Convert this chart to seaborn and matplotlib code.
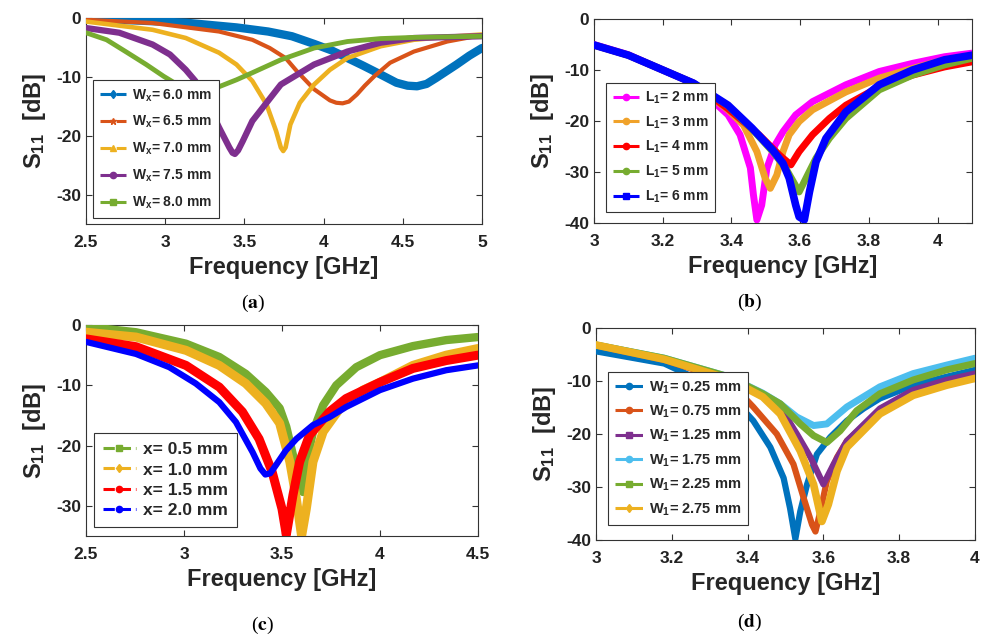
import numpy as np
import pandas as pd
import matplotlib
matplotlib.use("Agg")
import matplotlib.pyplot as plt
from matplotlib.lines import Line2D
import seaborn as sns

# ---- Data (freq in GHz, S11 in dB) ----
# (a) Wx sweep
a_labels = ["6.0", "6.5", "7.0", "7.5", "8.0"]
a_f_60 = [2.5, 2.8, 3.13, 3.45, 3.65, 3.8, 3.94, 4.05, 4.15, 4.25, 4.36, 4.46, 4.53, 4.59, 4.65, 4.71, 4.84, 4.92, 5.0]
a_s_60 = [-0.3, -0.4, -0.8, -1.6, -2.3, -3.1, -4.4, -5.5, -6.8, -8.1, -9.6, -11.0, -11.5, -11.6, -11.2, -10.2, -7.9, -6.4, -5.1]
a_f_65 = [2.5, 2.92, 3.34, 3.55, 3.66, 3.76, 3.83, 3.94, 4.04, 4.08, 4.12, 4.16, 4.21, 4.26, 4.32, 4.42, 4.57, 4.78, 5.0]
a_s_65 = [-0.3, -0.85, -2.3, -3.7, -5.1, -6.8, -9.0, -12.1, -14.0, -14.4, -14.5, -14.2, -13.0, -11.5, -9.9, -7.6, -5.7, -4.0, -2.9]
a_f_70 = [2.5, 2.92, 3.13, 3.34, 3.45, 3.55, 3.64, 3.7, 3.73, 3.745, 3.76, 3.79, 3.85, 3.94, 4.04, 4.15, 4.36, 4.57, 4.78, 5.0]
a_s_70 = [-0.6, -2.0, -3.4, -5.9, -7.9, -10.7, -14.7, -19.2, -22.0, -22.6, -22.0, -18.1, -14.4, -11.3, -8.8, -6.8, -4.8, -3.7, -3.2, -2.8]
a_f_75 = [2.5, 2.71, 2.92, 3.03, 3.13, 3.19, 3.26, 3.34, 3.405, 3.425, 3.44, 3.46, 3.49, 3.55, 3.64, 3.73, 3.94, 4.15, 4.36, 4.57, 5.0]
a_s_75 = [-1.7, -2.5, -4.5, -6.2, -8.8, -10.7, -14.1, -18.6, -22.0, -22.9, -23.1, -22.5, -20.9, -17.5, -14.4, -11.3, -7.9, -5.7, -4.2, -3.4, -3.1]
a_f_80 = [2.5, 2.63, 2.75, 2.88, 2.99, 3.1, 3.22, 3.3, 3.45, 3.55, 3.73, 3.94, 4.15, 4.36, 4.57, 5.0]
a_s_80 = [-2.5, -3.7, -5.7, -7.9, -9.9, -11.7, -12.6, -12.1, -10.5, -9.3, -7.1, -5.1, -4.0, -3.5, -3.3, -3.1]

# (b) L1 sweep
b_labels = ["2", "3", "4", "5", "6"]
b_f_2 = [3.0, 3.1, 3.19, 3.29, 3.39, 3.425, 3.455, 3.464, 3.474, 3.488, 3.503, 3.527, 3.55, 3.587, 3.636, 3.733, 3.83, 3.927, 4.02, 4.1]
b_s_2 = [-5.0, -7.0, -9.7, -12.6, -18.8, -22.7, -29.2, -34.5, -39.4, -36.5, -29.3, -24.7, -22.1, -18.8, -16.2, -12.9, -10.3, -8.7, -7.4, -6.7]
b_f_3 = [3.0, 3.1, 3.19, 3.29, 3.39, 3.435, 3.474, 3.498, 3.513, 3.532, 3.55, 3.568, 3.597, 3.636, 3.733, 3.83, 3.927, 4.02, 4.1]
b_s_3 = [-5.1, -7.1, -9.7, -12.6, -17.8, -20.8, -26.0, -31.2, -33.2, -30.6, -26.0, -22.7, -20.1, -17.8, -14.3, -11.6, -9.7, -8.0, -7.1]
b_f_4 = [3.0, 3.1, 3.19, 3.29, 3.39, 3.48, 3.54, 3.573, 3.597, 3.636, 3.685, 3.733, 3.83, 3.927, 4.02, 4.1]
b_s_4 = [-5.1, -7.1, -9.7, -12.6, -17.6, -22.7, -26.7, -28.6, -26.0, -22.7, -19.5, -16.9, -13.3, -11.0, -9.4, -8.4]
b_f_5 = [3.0, 3.1, 3.19, 3.29, 3.39, 3.46, 3.52, 3.56, 3.597, 3.617, 3.646, 3.685, 3.733, 3.83, 3.927, 4.02, 4.1]
b_s_5 = [-5.1, -7.1, -9.7, -12.6, -17.0, -21.6, -26.0, -29.5, -33.9, -31.2, -27.3, -23.4, -19.5, -13.9, -11.0, -9.0, -7.7]
b_f_6 = [3.0, 3.1, 3.19, 3.29, 3.39, 3.46, 3.52, 3.55, 3.568, 3.587, 3.597, 3.612, 3.627, 3.646, 3.675, 3.733, 3.83, 3.927, 4.02, 4.1]
b_s_6 = [-5.1, -7.1, -9.7, -12.6, -16.9, -21.4, -25.7, -28.3, -31.2, -36.5, -38.8, -39.4, -33.9, -28.0, -23.4, -18.2, -12.9, -10.0, -8.0, -7.1]

# (c) x sweep
c_labels = ["0.5", "1.0", "1.5", "2.0"]
c_f_05 = [2.5, 2.755, 3.01, 3.18, 3.315, 3.417, 3.488, 3.522, 3.556, 3.585, 3.607, 3.63, 3.658, 3.71, 3.777, 3.879, 4.0, 4.168, 4.338, 4.5]
c_s_05 = [-0.3, -1.2, -3.1, -5.3, -8.1, -11.1, -13.8, -16.9, -21.6, -25.5, -27.7, -22.0, -17.7, -13.3, -10.0, -7.0, -5.0, -3.5, -2.5, -2.0]
c_f_10 = [2.5, 2.755, 3.01, 3.18, 3.315, 3.417, 3.488, 3.54, 3.573, 3.6, 3.624, 3.658, 3.71, 3.794, 3.913, 4.0, 4.168, 4.338, 4.5]
c_s_10 = [-1.2, -2.0, -4.2, -6.7, -9.7, -13.0, -16.3, -22.7, -28.8, -35.0, -30.5, -22.7, -17.7, -13.9, -10.8, -9.5, -6.7, -5.0, -3.9]
c_f_15 = [2.5, 2.755, 3.01, 3.18, 3.298, 3.383, 3.45, 3.5, 3.522, 3.556, 3.59, 3.64, 3.742, 3.827, 4.0, 4.168, 4.338, 4.5]
c_s_15 = [-2.3, -3.6, -6.7, -10.3, -14.4, -18.9, -24.4, -30.5, -34.8, -28.2, -22.7, -18.3, -14.4, -12.2, -9.5, -7.2, -5.9, -5.0]
c_f_20 = [2.5, 2.755, 2.925, 3.06, 3.18, 3.265, 3.35, 3.39, 3.415, 3.44, 3.468, 3.52, 3.573, 3.658, 3.742, 3.827, 4.0, 4.168, 4.338, 4.5]
c_s_20 = [-2.8, -4.8, -7.0, -9.7, -12.8, -16.1, -21.1, -23.8, -24.8, -24.6, -23.3, -20.8, -18.9, -16.6, -15.3, -13.6, -10.8, -8.9, -7.5, -6.7]

# (d) W1 sweep
d_labels = ["0.25", "0.75", "1.25", "1.75", "2.25", "2.75"]
d_f_025 = [3.0, 3.18, 3.35, 3.415, 3.46, 3.495, 3.512, 3.526, 3.539, 3.557, 3.583, 3.618, 3.662, 3.706, 3.749, 3.837, 3.925, 4.0]
d_s_025 = [-4.4, -6.7, -12.4, -17.5, -22.5, -28.3, -34.0, -39.8, -34.6, -29.5, -23.8, -20.6, -17.5, -15.2, -13.3, -10.8, -9.2, -7.9]
d_f_075 = [3.0, 3.18, 3.35, 3.415, 3.477, 3.521, 3.548, 3.57, 3.579, 3.592, 3.609, 3.636, 3.662, 3.749, 3.837, 3.925, 4.0]
d_s_075 = [-3.3, -6.0, -10.0, -14.9, -20.0, -25.7, -32.1, -37.1, -38.4, -34.6, -28.9, -24.4, -21.3, -15.6, -12.4, -10.5, -9.2]
d_f_125 = [3.0, 3.18, 3.35, 3.44, 3.486, 3.53, 3.566, 3.6, 3.627, 3.662, 3.749, 3.837, 3.925, 4.0]
d_s_125 = [-3.2, -5.8, -9.5, -12.6, -14.9, -20.0, -24.4, -29.5, -25.7, -21.3, -15.2, -11.7, -9.8, -8.6]
d_f_175 = [3.0, 3.18, 3.35, 3.44, 3.486, 3.53, 3.574, 3.609, 3.662, 3.749, 3.837, 3.925, 4.0]
d_s_175 = [-3.2, -5.7, -9.2, -12.3, -14.3, -16.8, -18.4, -18.1, -14.9, -11.1, -8.6, -7.0, -5.7]
d_f_225 = [3.0, 3.18, 3.35, 3.44, 3.486, 3.539, 3.574, 3.609, 3.644, 3.688, 3.749, 3.837, 3.925, 4.0]
d_s_225 = [-3.2, -5.7, -9.2, -12.4, -14.3, -18.1, -20.3, -21.6, -19.4, -15.6, -12.4, -9.8, -7.9, -6.7]
d_f_275 = [3.0, 3.18, 3.35, 3.44, 3.486, 3.539, 3.574, 3.596, 3.613, 3.636, 3.662, 3.749, 3.837, 3.925, 4.0]
d_s_275 = [-3.2, -5.9, -9.6, -13.0, -16.2, -23.2, -29.5, -36.5, -33.3, -27.0, -22.5, -16.2, -12.7, -10.8, -9.5]

# MATLAB-ish colours
c_blue, c_orange, c_yellow = "#0072BD", "#D95319", "#EDB120"
c_purple, c_green, c_cyan = "#7E2F8E", "#77AC30", "#4DBEEE"


def long_df(freqs, vals, labels):
    rows = []
    for f, s, lab in zip(freqs, vals, labels):
        rows.append(pd.DataFrame({"freq": f, "s11": s, "label": lab}))
    return pd.concat(rows, ignore_index=True)


sns.set_theme(style="ticks")
plt.rcParams["font.family"] = ["Liberation Sans", "DejaVu Sans"]
plt.rcParams["font.weight"] = "bold"
plt.rcParams["mathtext.fontset"] = "custom"
plt.rcParams["mathtext.rm"] = "Liberation Sans:bold"
plt.rcParams["mathtext.bf"] = "Liberation Sans:bold"
plt.rcParams["mathtext.it"] = "Liberation Sans:bold"

W, H = 981, 635
fig = plt.figure(figsize=(W / 100, H / 100), dpi=100)


def make_ax(l, r, t, b):
    return fig.add_axes([l / W, 1 - b / H, (r - l) / W, (b - t) / H])


def style_ax(ax, xlim, xticks, ylim, yticks):
    ax.set_xlim(*xlim)
    ax.set_ylim(*ylim)
    ax.set_xticks(xticks)
    ax.set_yticks(yticks)
    ax.set_xticklabels([f"{v:g}" for v in xticks], fontsize=12.5, fontweight="bold")
    ax.set_yticklabels([f"{v:g}" for v in yticks], fontsize=12.5, fontweight="bold")
    ax.tick_params(direction="in", top=True, right=True, length=4, width=0.8,
                   colors="#333333", labelcolor="#222222")
    ax.tick_params(axis="x", pad=8)
    for sp in ax.spines.values():
        sp.set_linewidth(0.8)
        sp.set_color("#333333")
    ax.set_xlabel("Frequency [GHz]", fontsize=17, fontweight="bold", labelpad=4)
    ax.set_ylabel(r"S$_{11}$  [dB]", fontsize=17, fontweight="bold", labelpad=6)


def draw_panel(ax, df, palette, widths, markers, labels):
    for lab, lw in zip(labels, widths):
        sub = df[df["label"] == lab]
        sns.lineplot(data=sub, x="freq", y="s11", color=palette[lab], lw=lw,
                     ax=ax, legend=False, solid_capstyle="round",
                     solid_joinstyle="round", zorder=3)
    handles = [Line2D([], [], color=palette[lab], ls="--", lw=2.2, marker=m, ms=4.5)
               for lab, m in zip(labels, markers)]
    return handles


def add_legend(ax, h, labels, anchor, fs, spacing):
    leg = ax.legend(h, labels, loc="lower left", bbox_to_anchor=anchor, fontsize=fs,
                    frameon=True, fancybox=False, edgecolor="#333333",
                    labelspacing=spacing, handlelength=1.9, handletextpad=0.4,
                    borderpad=0.5, borderaxespad=0)
    leg.get_frame().set_linewidth(0.8)
    leg.get_frame().set_alpha(1)


# ---- (a) ----
ax_a = make_ax(86, 482, 18, 224)
la = [rf"W$_\mathbf{{x}}$= {v} mm" for v in a_labels]
df_a = long_df([a_f_60, a_f_65, a_f_70, a_f_75, a_f_80],
               [a_s_60, a_s_65, a_s_70, a_s_75, a_s_80], la)
pal_a = dict(zip(la, [c_blue, c_orange, c_yellow, c_purple, c_green]))
h = draw_panel(ax_a, df_a, pal_a, [6, 3, 3.3, 4.5, 3.5], ["d", "*", "^", "o", "s"], la)
style_ax(ax_a, (2.5, 5), [2.5, 3, 3.5, 4, 4.5, 5], (-35, 0), [-30, -20, -10, 0])
add_legend(ax_a, h, la, (0.018, 0.03), 10, 0.75)

# ---- (b) ----
ax_b = make_ax(594, 972, 19, 223)
lb = [rf"L$_\mathbf{{1}}$= {v} mm" for v in b_labels]
df_b = long_df([b_f_2, b_f_3, b_f_4, b_f_5, b_f_6],
               [b_s_2, b_s_3, b_s_4, b_s_5, b_s_6], lb)
pal_b = dict(zip(lb, ["#FF00FF", "#F0A22A", "#FF0000", c_green, "#0000FF"]))
h = draw_panel(ax_b, df_b, pal_b, [5, 5, 5, 5, 5.5], ["o", "o", "o", "o", "s"], lb)
style_ax(ax_b, (3, 4.1), [3, 3.2, 3.4, 3.6, 3.8, 4], (-40, 0), [-40, -30, -20, -10, 0])
add_legend(ax_b, h, lb, (0.031, 0.055), 10, 0.6)

# ---- (c) ----
ax_c = make_ax(86, 478, 325, 536)
lc = [f"x= {v} mm" for v in c_labels]
df_c = long_df([c_f_05, c_f_10, c_f_15, c_f_20],
               [c_s_05, c_s_10, c_s_15, c_s_20], lc)
pal_c = dict(zip(lc, [c_green, c_yellow, "#FF0000", "#0000FF"]))
h = draw_panel(ax_c, df_c, pal_c, [6, 6.5, 6.5, 4.5], ["s", "d", "o", "o"], lc)
style_ax(ax_c, (2.5, 4.5), [2.5, 3, 3.5, 4, 4.5], (-35, 0), [-30, -20, -10, 0])
add_legend(ax_c, h, lc, (0.021, 0.043), 12.5, 0.3)

# ---- (d) ----
ax_d = make_ax(596, 975, 328, 540)
ld = [rf"W$_\mathbf{{1}}$= {v} mm" for v in d_labels]
df_d = long_df([d_f_025, d_f_075, d_f_125, d_f_175, d_f_225, d_f_275],
               [d_s_025, d_s_075, d_s_125, d_s_175, d_s_225, d_s_275], ld)
pal_d = dict(zip(ld, [c_blue, c_orange, c_purple, c_cyan, c_green, c_yellow]))
h = draw_panel(ax_d, df_d, pal_d, [4.5, 4.5, 4.5, 5, 5, 5.5], ["o", "o", "s", "o", "s", "d"], ld)
style_ax(ax_d, (3, 4), [3, 3.2, 3.4, 3.6, 3.8, 4], (-40, 0), [-40, -30, -20, -10, 0])
add_legend(ax_d, h, ld, (0.031, 0.071), 10.5, 0.55)

# ---- captions ----
for x, y, letter in [(253, 303, "a"), (750, 302, "b"), (262, 625, "c"), (750, 622, "d")]:
    fig.text(x / W, 1 - y / H, rf"($\mathbf{{{letter}}}$)", family="Liberation Serif",
             fontweight="normal", math_fontfamily="stix", fontsize=14,
             ha="center", va="center", color="black")

fig.savefig("out.png", dpi=100)
